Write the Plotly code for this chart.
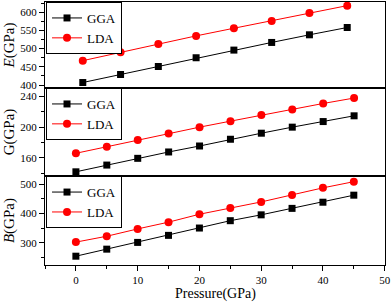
import plotly.graph_objects as go

pressure_E = [0, 5, 10, 15, 20, 25, 30, 35]
E_GGA = [407, 429, 451, 475, 496, 517, 538, 558]
E_LDA = [467, 490, 513, 535, 556, 576, 598, 618]

pressure = [0, 5, 10, 15, 20, 25, 30, 35, 40, 45]
G_GGA = [141.6, 150.4, 159.2, 167.5, 175.3, 184.1, 192.0, 199.9, 207.2, 214.7]
G_LDA = [165.8, 174.4, 183.2, 191.5, 199.9, 207.7, 215.6, 222.9, 230.8, 237.9]
B_GGA = [254, 278, 301, 325, 350, 375, 395, 417, 438, 462]
B_LDA = [302, 322, 347, 370, 397, 418, 439, 463, 487, 508]

FONT = "Liberation Serif"
BLACK = "#000000"
RED = "#FF0000"

fig = go.Figure()

def add(x, y, name, color, symbol, xa, ya, leg):
    fig.add_trace(go.Scatter(
        x=x, y=y, name=name, mode="lines+markers", xaxis=xa, yaxis=ya, legend=leg,
        line=dict(color=color, width=1),
        marker=dict(color=color, symbol=symbol, size=8 if symbol == "circle" else 7),
    ))

add(pressure_E, E_GGA, "GGA", BLACK, "square", "x3", "y3", "legend")
add(pressure_E, E_LDA, "LDA", RED, "circle", "x3", "y3", "legend")
add(pressure, G_GGA, "GGA", BLACK, "square", "x2", "y2", "legend2")
add(pressure, G_LDA, "LDA", RED, "circle", "x2", "y2", "legend2")
add(pressure, B_GGA, "GGA", BLACK, "square", "x", "y", "legend3")
add(pressure, B_LDA, "LDA", RED, "circle", "x", "y", "legend3")

axis_common = dict(showline=True, linecolor=BLACK, linewidth=1, mirror=True,
                   showgrid=False, zeroline=False,
                   tickfont=dict(family=FONT, size=11, color=BLACK))

yticks = dict(ticks="outside", ticklen=5, tickwidth=1, tickcolor=BLACK)

def minor(dt):
    return dict(ticks="outside", ticklen=3, tickcolor=BLACK, dtick=dt)

d1, d2 = 0.338, 0.673

legend_common = dict(font=dict(family=FONT, size=13, color=BLACK), bgcolor="white",
                     bordercolor=BLACK, borderwidth=1, xanchor="left", yanchor="top",
                     x=0.003, tracegroupgap=0, itemwidth=30)

fig.update_layout(
    width=392, height=303,
    margin=dict(l=45, r=7, t=2, b=38),
    paper_bgcolor="white", plot_bgcolor="white",
    font=dict(family=FONT, color=BLACK),
    xaxis={**axis_common, **dict(anchor="y", domain=[0, 1], range=[-5, 50.05], dtick=10,
               ticks="outside", ticklen=5, tickcolor=BLACK, minor=minor(5),
               ticklabeloverflow="allow")},
    yaxis={**axis_common, **yticks, **dict(anchor="x", domain=[0, d1], range=[224, 527], dtick=100,
               minor=minor(50),
               title=dict(text="<i>B</i>(GPa)", font=dict(family=FONT, size=15), standoff=2))},
    xaxis2={**axis_common, **dict(anchor="y2", domain=[0, 1], range=[-5, 50], showticklabels=False)},
    yaxis2={**axis_common, **yticks, **dict(anchor="x2", domain=[d1, d2], range=[136, 251], dtick=40,
                minor=minor(20),
                title=dict(text="G(GPa)", font=dict(family=FONT, size=15), standoff=2))},
    xaxis3={**axis_common, **dict(anchor="y3", domain=[0, 1], range=[-5, 40], showticklabels=False)},
    yaxis3={**axis_common, **yticks, **dict(anchor="x3", domain=[d2, 1], range=[392, 628], dtick=50,
                minor=minor(25),
                title=dict(text="<i>E</i>(GPa)", font=dict(family=FONT, size=15), standoff=2))},
    legend={**legend_common, "y": 1.0},
    legend2={**legend_common, "y": d2},
    legend3={**legend_common, "y": d1},
    showlegend=True,
    annotations=[dict(text="Pressure(GPa)", xref="paper", yref="paper", x=0.5, y=-0.11,
                      xanchor="center", yanchor="middle", showarrow=False,
                      font=dict(family=FONT, size=14, color=BLACK))],
)

fig.write_html("out.html", config={"displayModeBar": False},
               post_script="document.body.style.margin='0px';document.body.style.overflow='hidden';")
